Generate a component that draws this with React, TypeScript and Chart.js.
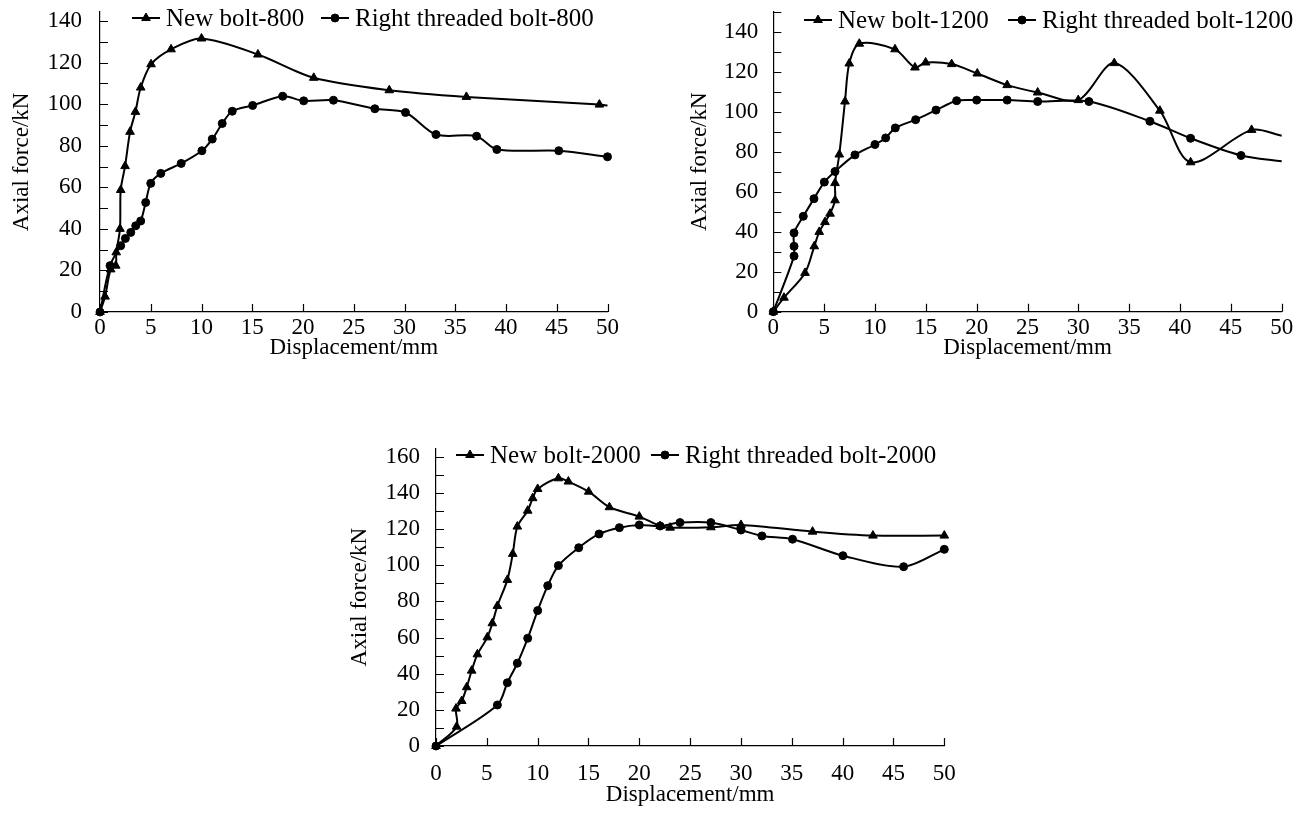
import React, { useEffect, useRef } from "react";
import { Chart, registerables } from "chart.js";

Chart.register(...registerables);

const FONT_FAMILY = '"Liberation Serif", "Times New Roman", serif';

// ---------- tick values ----------
const xTickValues = [0, 5, 10, 15, 20, 25, 30, 35, 40, 45, 50];
const yTicks140 = [0, 20, 40, 60, 80, 100, 120, 140];
const yTicks160 = [0, 20, 40, 60, 80, 100, 120, 140, 160];
const yMinor800 = [0, 10, 20, 30, 40, 50, 60, 70, 80, 90, 100, 110, 120, 130, 140];
const yMinor1200 = [0, 10, 20, 30, 40, 50, 60, 70, 80, 90, 100, 110, 120, 130, 140, 150];
const yMinor2000 = [0, 10, 20, 30, 40, 50, 60, 70, 80, 90, 100, 110, 120, 130, 140, 150, 160];

// ---------- data: bolt length 800 ----------
const new800X = [0, 0.5, 1.05, 1.55, 1.6, 1.97, 2.04, 2.47, 2.96, 3.49, 4.01, 5.03, 7.0, 10.0, 15.56, 21.06, 28.5, 36.1, 49.2, 50];
const new800Y = [0, 7.4, 20.5, 22.3, 28.7, 40, 58.7, 70.2, 86.7, 96.3, 108, 119.2, 126.4, 131.6, 123.9, 112.7, 106.7, 103.5, 99.8, 99.4];
const thr800X = [0, 0.99, 2.04, 2.5, 3.03, 3.52, 4.01, 4.5, 5.0, 5.99, 8.0, 10.04, 11.06, 12.04, 13.03, 15.04, 18.0, 20.07, 23.0, 27.08, 30.1, 33.1, 37.1, 39.1, 45.2, 50];
const thr800Y = [0, 22.3, 31.9, 35.4, 38.3, 41.5, 43.8, 52.7, 61.9, 66.7, 71.5, 77.6, 83.2, 90.7, 96.6, 99.4, 103.8, 101.6, 101.9, 97.8, 96.0, 85.4, 84.6, 78.2, 77.6, 74.7];

// ---------- data: bolt length 1200 ----------
const new1200X = [0, 1.05, 3.12, 4.03, 4.52, 5.08, 5.58, 6.07, 6.07, 6.49, 7.05, 7.47, 8.46, 11.97, 13.93, 14.98, 17.54, 20.06, 23.0, 26.0, 29.99, 33.53, 38.02, 41.04, 47.04, 50];
const new1200Y = [0, 7.0, 19.4, 32.7, 39.9, 44.8, 49.0, 55.7, 64.3, 78.6, 105.1, 124.1, 134.0, 131.2, 122.1, 124.6, 123.8, 119.1, 113.3, 109.6, 105.8, 124.3, 100.5, 74.7, 90.9, 88.0];
const thr1200X = [0, 2.04, 2.04, 2.04, 2.95, 4.0, 5.02, 6.07, 8.03, 10.0, 11.05, 12.0, 14.0, 16.0, 18.03, 20.0, 23.0, 26.0, 31.04, 37.04, 41.04, 46.0, 50];
const thr1200Y = [0, 27.8, 32.7, 39.4, 47.7, 56.5, 64.8, 70.1, 78.4, 83.6, 86.9, 91.9, 96.0, 100.8, 105.5, 105.8, 105.8, 105.1, 105.1, 95.2, 86.7, 78.1, 75.2];

// ---------- data: bolt length 2000 ----------
const new2000X = [0, 2.03, 1.97, 2.53, 3.02, 3.51, 4.07, 5.05, 5.54, 6.04, 7.02, 7.55, 8.0, 9.02, 9.51, 10.0, 12.04, 13.02, 15.02, 17.06, 20.0, 22.05, 23.03, 27.04, 30.0, 37.04, 42.98, 50];
const new2000Y = [0, 10.7, 20.7, 24.9, 32.5, 41.7, 50.7, 60.1, 67.9, 77.5, 91.9, 106.3, 121.4, 130.2, 137.1, 142.2, 148.1, 146.3, 140.7, 132.1, 126.9, 121.7, 120.8, 121.0, 122.3, 118.6, 116.4, 116.4];
const thr2000X = [0, 6.04, 7.02, 8.0, 9.02, 10.0, 10.99, 12.04, 14.04, 16.04, 18.04, 20.0, 22.05, 24.0, 27.04, 30.0, 32.06, 35.07, 40.03, 46.0, 50];
const thr2000Y = [0, 22.7, 35.0, 45.8, 59.6, 74.9, 88.7, 99.8, 109.7, 117.3, 120.8, 122.3, 121.7, 123.6, 123.6, 119.5, 116.2, 114.4, 105.3, 99.2, 108.8];

type Series = {
  label: string;
  xs: number[];
  ys: number[];
  marker: "triangle" | "circle";
  endMarker: boolean;
};

type Layout = {
  canvas: { left: number; top: number; width: number; height: number };
  plot: { left: number; top: number; right: number; bottom: number };
  yMax: number;
  yLabelPad: number;
  xDigitCenter: number;
  xTitleCenter: number;
  yTitleX: number;
  legendY: number;
  legendTextX: number[];
};

const TICK_SIZE = 23;
const LEGEND_SIZE = 25;
const LH = TICK_SIZE * 1.2;

function drawMarker(ctx: CanvasRenderingContext2D, kind: string, x: number, y: number) {
  ctx.beginPath();
  if (kind === "triangle") {
    const r = 5;
    let rad = 0;
    ctx.moveTo(x + Math.sin(rad) * r, y - Math.cos(rad) * r);
    rad += (2 * Math.PI) / 3;
    ctx.lineTo(x + Math.sin(rad) * r, y - Math.cos(rad) * r);
    rad += (2 * Math.PI) / 3;
    ctx.lineTo(x + Math.sin(rad) * r, y - Math.cos(rad) * r);
    ctx.closePath();
  } else {
    ctx.arc(x, y, 4, 0, Math.PI * 2);
  }
  ctx.fill();
  ctx.stroke();
}

function BoltChart({
  layout,
  series,
  yTicks,
  yMinor,
}: {
  layout: Layout;
  series: Series[];
  yTicks: number[];
  yMinor: number[];
}) {
  const ref = useRef<HTMLCanvasElement>(null);

  useEffect(() => {
    const L = layout;
    const canvas = ref.current!;
    const cw = L.canvas.width;
    const ch = L.canvas.height;
    const padTop = L.plot.top - L.canvas.top;
    const padRight = L.canvas.left + cw - L.plot.right;
    const yAxisWidth = L.plot.left - L.canvas.left;
    const xAxisHeight = L.canvas.top + ch - L.plot.bottom;
    const xLabelPad = L.xDigitCenter - L.plot.bottom - LH / 2;
    const xTitlePadBottom = L.canvas.top + ch - L.xTitleCenter - LH / 2;
    const yTitlePad = L.yTitleX - L.canvas.left - LH / 2;
    const tickFont = { family: FONT_FAMILY, size: TICK_SIZE };

    const datasets = series.map((s) => ({
      label: s.label,
      data: s.xs.map((x, i) => ({ x, y: s.ys[i] })),
      borderColor: "#000",
      backgroundColor: "#000",
      borderWidth: 2,
      pointStyle: s.marker,
      pointRadius: (c: any) =>
        !s.endMarker && c.dataIndex === s.xs.length - 1 ? 0 : s.marker === "triangle" ? 5 : 4,
      pointBorderWidth: 1,
      pointBorderColor: "#000",
      pointBackgroundColor: "#000",
      tension: 0.3,
      fill: false,
      clip: false as any,
    }));

    const decor = {
      id: "decor",
      afterDraw(chart: any) {
        const ctx: CanvasRenderingContext2D = chart.ctx;
        const area = chart.chartArea;
        const xs = chart.scales.x;
        const ys = chart.scales.y;
        ctx.save();
        ctx.strokeStyle = "#000";
        ctx.lineWidth = 1.2;
        ctx.beginPath();
        xTickValues.forEach((v) => {
          const px = Math.round(xs.getPixelForValue(v)) + 0.5;
          ctx.moveTo(px, area.bottom);
          ctx.lineTo(px, area.bottom - 8);
        });
        yMinor.forEach((v) => {
          const py = Math.round(ys.getPixelForValue(v)) + 0.5;
          ctx.moveTo(area.left, py);
          ctx.lineTo(area.left + 8, py);
        });
        ctx.stroke();

        // legend
        const ly = L.legendY - L.canvas.top;
        ctx.font = `${LEGEND_SIZE}px ${FONT_FAMILY}`;
        ctx.textBaseline = "middle";
        ctx.textAlign = "left";
        series.forEach((s, i) => {
          const tx = L.legendTextX[i] - L.canvas.left;
          const x1 = tx - 6;
          const x0 = x1 - 28;
          ctx.strokeStyle = "#000";
          ctx.fillStyle = "#000";
          ctx.lineWidth = 2;
          ctx.beginPath();
          ctx.moveTo(x0, ly);
          ctx.lineTo(x1, ly);
          ctx.stroke();
          ctx.lineWidth = 1;
          drawMarker(ctx, s.marker, (x0 + x1) / 2, ly);
          ctx.fillStyle = "#000";
          ctx.fillText(s.label, tx, ly + 1);
        });
        ctx.restore();
      },
    };

    const chart = new Chart(canvas, {
      type: "line",
      data: { datasets: datasets as any },
      options: {
        animation: false,
        responsive: false,
        maintainAspectRatio: false,
        layout: { padding: { top: padTop, right: padRight, left: 0, bottom: 0 } },
        plugins: { legend: { display: false }, tooltip: { enabled: false } },
        scales: {
          x: {
            type: "linear",
            min: 0,
            max: 50,
            afterBuildTicks: (s: any) => {
              s.ticks = xTickValues.map((v) => ({ value: v }));
            },
            afterFit: (s: any) => {
              s.height = xAxisHeight;
              s.paddingLeft = 0;
              s.paddingRight = 0;
            },
            ticks: {
              font: tickFont,
              color: "#000",
              padding: xLabelPad,
              maxRotation: 0,
              autoSkip: false,
            },
            grid: { display: false, drawTicks: false },
            border: { display: true, color: "#000", width: 1.2 },
            title: {
              display: true,
              text: "Displacement/mm",
              font: tickFont,
              color: "#000",
              padding: { top: 0, bottom: xTitlePadBottom },
            },
          },
          y: {
            type: "linear",
            min: 0,
            max: L.yMax,
            afterBuildTicks: (s: any) => {
              s.ticks = yTicks.map((v) => ({ value: v }));
            },
            afterFit: (s: any) => {
              s.width = yAxisWidth;
              s.paddingTop = 0;
              s.paddingBottom = 0;
            },
            ticks: { font: tickFont, color: "#000", padding: L.yLabelPad, autoSkip: false },
            grid: { display: false, drawTicks: false },
            border: { display: true, color: "#000", width: 1.2 },
            title: {
              display: true,
              text: "Axial force/kN",
              font: tickFont,
              color: "#000",
              padding: { top: yTitlePad, bottom: 0 },
            },
          },
        },
      } as any,
      plugins: [decor],
    });
    return () => chart.destroy();
  }, [layout, series, yTicks, yMinor]);

  return (
    <canvas
      ref={ref}
      width={layout.canvas.width}
      height={layout.canvas.height}
      style={{
        position: "absolute",
        left: layout.canvas.left,
        top: layout.canvas.top,
        width: layout.canvas.width,
        height: layout.canvas.height,
      }}
    />
  );
}

const series800: Series[] = [
  { label: "New bolt-800", xs: new800X, ys: new800Y, marker: "triangle", endMarker: false },
  { label: "Right threaded bolt-800", xs: thr800X, ys: thr800Y, marker: "circle", endMarker: true },
];
const series1200: Series[] = [
  { label: "New bolt-1200", xs: new1200X, ys: new1200Y, marker: "triangle", endMarker: false },
  { label: "Right threaded bolt-1200", xs: thr1200X, ys: thr1200Y, marker: "circle", endMarker: false },
];
const series2000: Series[] = [
  { label: "New bolt-2000", xs: new2000X, ys: new2000Y, marker: "triangle", endMarker: true },
  { label: "Right threaded bolt-2000", xs: thr2000X, ys: thr2000Y, marker: "circle", endMarker: true },
];

const layout800: Layout = {
  canvas: { left: 0, top: -30, width: 660, height: 405 },
  plot: { left: 100, top: 11.7, right: 607.5, bottom: 312 },
  yMax: 144.5,
  yLabelPad: 18,
  xDigitCenter: 328,
  xTitleCenter: 348,
  yTitleX: 22,
  legendY: 18,
  legendTextX: [166, 355],
};
const layout1200: Layout = {
  canvas: { left: 660, top: -30, width: 680, height: 405 },
  plot: { left: 773.3, top: 11.7, right: 1281.7, bottom: 311.7 },
  yMax: 150,
  yLabelPad: 15,
  xDigitCenter: 328,
  xTitleCenter: 348,
  yTitleX: 700,
  legendY: 20,
  legendTextX: [838, 1042],
};
const layout2000: Layout = {
  canvas: { left: 330, top: 400, width: 660, height: 425 },
  plot: { left: 436, top: 448.3, right: 944.3, bottom: 746 },
  yMax: 164.7,
  yLabelPad: 16,
  xDigitCenter: 774,
  xTitleCenter: 795,
  yTitleX: 360,
  legendY: 455,
  legendTextX: [490, 685],
};

export default function App() {
  return (
    <div
      style={{
        position: "fixed",
        left: 0,
        top: 0,
        width: 1310,
        height: 825,
        background: "#fff",
        overflow: "hidden",
      }}
    >
      <BoltChart layout={layout800} series={series800} yTicks={yTicks140} yMinor={yMinor800} />
      <BoltChart layout={layout1200} series={series1200} yTicks={yTicks140} yMinor={yMinor1200} />
      <BoltChart layout={layout2000} series={series2000} yTicks={yTicks160} yMinor={yMinor2000} />
    </div>
  );
}
